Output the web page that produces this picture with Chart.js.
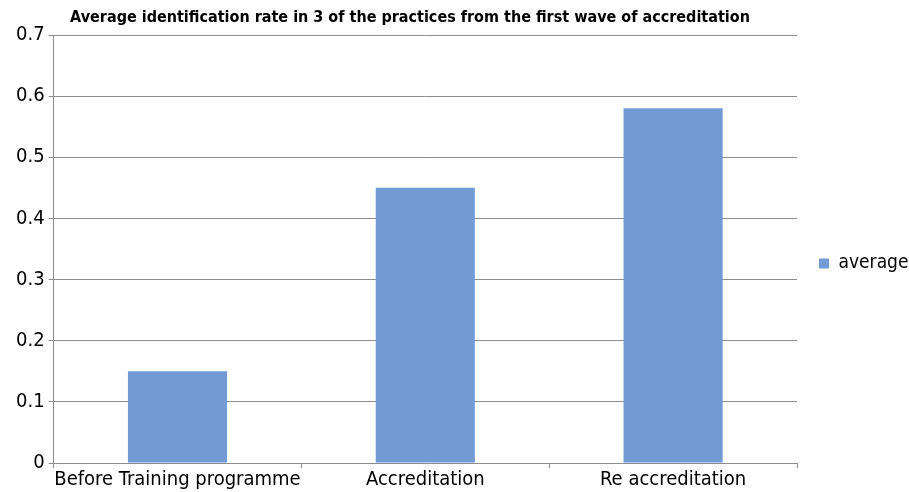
<!DOCTYPE html>
<html><head><meta charset="utf-8">
<script src="https://cdn.jsdelivr.net/npm/chart.js@4/dist/chart.umd.min.js"></script>
<style>html,body{margin:0;padding:0;background:#fff}#wrap{width:909px;height:492px}</style>
</head><body><div id="wrap"><canvas id="c" width="909" height="492"></canvas></div>
<script>
const categories = ["Before Training programme", "Accreditation", "Re accreditation"];
const averageValues = [0.15, 0.45, 0.58];
const yTicks = [0, 0.1, 0.2, 0.3, 0.4, 0.5, 0.6, 0.7];
const titleText = "Average identification rate in 3 of the practices from the first wave of accreditation";
const FONT = "'Liberation Sans Narrow', 'DejaVu Sans Condensed', 'Open Sans', sans-serif";

const titlePlugin = {
  id: 'customTitle',
  afterDraw(chart) {
    const ctx = chart.ctx;
    ctx.save();
    ctx.font = "bold 16px " + FONT;
    ctx.fillStyle = "#000";
    ctx.textAlign = "center";
    ctx.textBaseline = "middle";
    ctx.fillText(titleText, 410, 18);
    ctx.restore();
  }
};

new Chart(document.getElementById('c'), {
  type: 'bar',
  data: {
    labels: categories,
    datasets: [{
      label: 'average',
      data: averageValues,
      backgroundColor: '#729bd3',
      borderWidth: 0,
      categoryPercentage: 0.4,
      barPercentage: 1.0
    }]
  },
  options: {
    responsive: false,
    animation: false,
    devicePixelRatio: 1,
    layout: { padding: { top: 35, left: 12, right: 0, bottom: 0 } },
    plugins: {
      title: { display: false },
      tooltip: { enabled: false },
      legend: {
        position: 'right',
        maxWidth: 112,
        labels: {
          boxWidth: 10, boxHeight: 10, padding: 22,
          color: '#000',
          font: { family: FONT, size: 19 }
        }
      }
    },
    scales: {
      y: {
        min: 0, max: 0.7,
        afterBuildTicks(axis) { axis.ticks = yTicks.map(v => ({ value: v })); },
        ticks: { color: '#000', font: { family: FONT, size: 20 }, padding: 4 },
        grid: { color: '#8c8c8c', lineWidth: 1, tickLength: 5, drawTicks: true },
        border: { color: '#8c8c8c' }
      },
      x: {
        ticks: { color: '#000', font: { family: FONT, size: 20 }, padding: 0, maxRotation: 0, autoSkip: false },
        grid: { offset: true, display: true, drawOnChartArea: false, tickLength: 5, color: '#8c8c8c' },
        border: { color: '#8c8c8c' }
      }
    }
  },
  plugins: [titlePlugin]
});
</script></body></html>
